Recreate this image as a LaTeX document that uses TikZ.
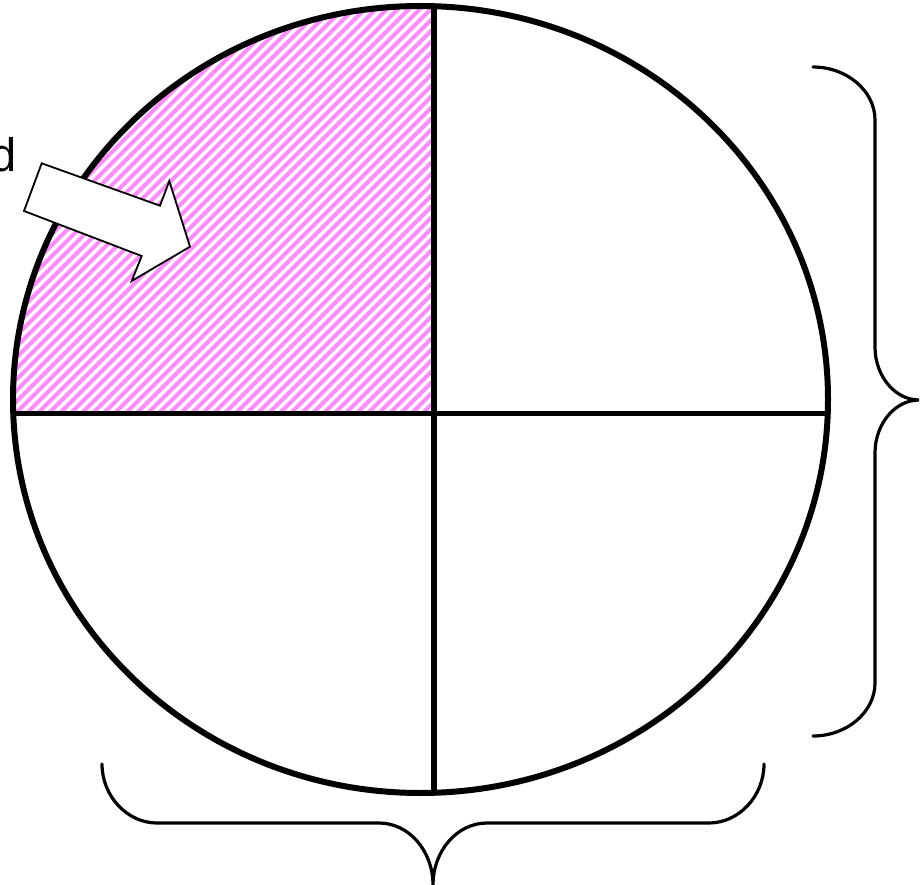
\documentclass[tikz,border=0pt]{standalone}
\usepackage{fontspec}
\setmainfont{Liberation Sans}
\definecolor{hatchpink}{RGB}{255,140,255}
\tikzset{
  outline/.style={line width=6pt, black},
  crossline/.style={line width=5.5pt, black},
  bracepath/.style={line width=3.2pt, black, line cap=round},
  hatchline/.style={line width=4.2pt, hatchpink},
  blockarrow/.style={fill=white, draw=black, line width=1.8pt, line join=miter},
}
\begin{document}
\begin{tikzpicture}[x=1pt,y=-1pt]
\useasboundingbox (0,0) rectangle (921,885);
\clip (0,0) rectangle (921,885);
\coordinate (C) at (420.5,399.5);
% hatched quadrant
\begin{scope}
  \clip (C) ellipse [x radius=407.5, y radius=393.5];
  \clip (0,0) rectangle (434,413.5);
  \foreach \c in {0,11,...,900} {
    \draw[hatchline] (\c,0) -- (0,\c);
  }
\end{scope}
% cross lines
\coordinate (T) at (434,6);
\coordinate (B) at (434,793);
\coordinate (L) at (13,413.5);
\coordinate (R) at (828,413.5);
\draw[crossline] (T) -- (B);
\draw[crossline] (L) -- (R);
% ellipse
\draw[outline] (C) ellipse [x radius=407.5, y radius=393.5];
% block arrow
\coordinate (a1) at (41.7,163.3);
\coordinate (a2) at (160,205.7);
\coordinate (a3) at (169.3,181);
\coordinate (a4) at (190,246.7);
\coordinate (a5) at (131.7,281);
\coordinate (a6) at (141.7,256);
\coordinate (a7) at (24,211);
\draw[blockarrow] (a1) -- (a2) -- (a3) -- (a4) -- (a5) -- (a6) -- (a7) -- cycle;
% text (cut off at the left edge, as in the reference)
\node[anchor=base east, inner sep=0pt, font=\fontsize{47}{56}\selectfont] (lbl) at (17,172) {d};
% right brace
\coordinate (rb1) at (813,67);
\coordinate (rb2) at (813,736);
\coordinate (rtip) at (919,400);
\draw[bracepath] (rb1) .. controls (847,67) and (875,91) .. (875,120)
  -- (875,347) .. controls (875,376) and (895,400) .. (rtip)
  .. controls (895,400) and (875,424) .. (875,453)
  -- (875,683) .. controls (875,712) and (847,736) .. (rb2);
% bottom brace
\coordinate (bb1) at (102,764);
\coordinate (bb2) at (764,764);
\coordinate (btip) at (433,885);
\draw[bracepath] (bb1) .. controls (102,796) and (127,823) .. (157,823)
  -- (379,823) .. controls (409,823) and (433,851) .. (btip)
  .. controls (433,851) and (457,823) .. (487,823)
  -- (709,823) .. controls (739,823) and (764,796) .. (bb2);
\end{tikzpicture}
\end{document}
